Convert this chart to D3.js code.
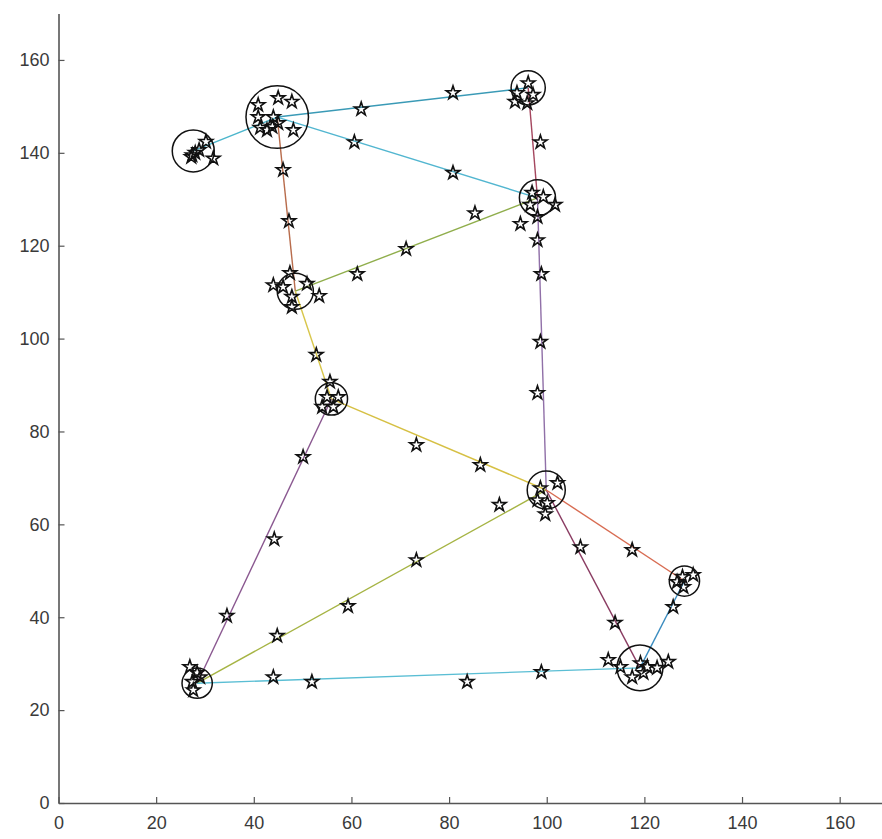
<!DOCTYPE html>
<html>
<head>
<meta charset="utf-8">
<script src="https://cdn.jsdelivr.net/npm/d3@7"></script>
<style>
  html, body { margin: 0; padding: 0; background: #fff; }
  svg { display: block; }
</style>
</head>
<body>
<svg id="chart" width="882" height="839"></svg>
<script>
// ---------- data ----------
const nodeNames = ["A","B","C","D","E","F","G","H","I","J"];
const nodeX = [27.6, 44.8, 96.2, 98.1, 48.5, 55.9, 99.9, 128.2, 119.1, 28.4];
const nodeY = [140.4, 147.7, 154.0, 130.3, 110.2, 87.0, 67.4, 47.8, 29.1, 25.8];
const nodeR = [4.3, 6.4, 3.5, 3.7, 3.7, 3.3, 3.9, 3.1, 4.7, 3.1]; // cluster radius, x-units

const edgeFrom = ["A","B","B","C","B","E","E","F","F","J","J","D","G","G","H"];
const edgeTo   = ["B","C","D","D","E","D","F","G","J","G","I","G","I","H","I"];
const edgeColors = ["#4cb6cc","#3a9ab6","#52b6d0","#a4465e","#b86c4c","#90ae4c","#d8c64a",
                    "#d6c044","#8a5890","#a6b444","#5abed4","#9070a8","#8a3c62","#d86c52","#3a8cc0"];

const starX = [
  27.2, 28.8, 30.2, 31.7, 28.0, 27.4,
  40.9, 45.0, 47.8, 40.9, 44.0, 41.3, 42.7, 45.0, 48.1, 43.8,
  62.0, 80.8,
  96.2, 93.5, 96.0, 97.2, 93.9,
  98.7,
  60.6, 80.8,
  97.0, 99.3, 96.6, 101.7, 98.1, 94.6,
  98.1, 98.9, 98.7, 98.1,
  61.2, 71.2, 85.3,
  46.0, 47.2,
  47.4, 44.0, 46.0, 50.9, 53.4, 47.8, 47.8,
  52.8,
  55.6, 55.0, 56.3, 54.0, 57.3,
  73.3, 86.4,
  90.3, 73.3, 59.3, 44.8,
  50.1, 44.2, 34.5,
  26.9, 28.4, 27.4, 27.6, 29.0,
  44.0, 51.9, 83.7, 98.9,
  98.7, 102.2, 98.1, 100.1, 99.7,
  106.9, 114.0,
  117.5,
  130.0, 127.8, 128.0, 126.7,
  125.9,
  112.6, 115.1, 119.2, 120.6, 122.6, 124.9, 117.5, 119.8
];
const starY = [
  139.1, 140.6, 142.4, 138.8, 140.0, 139.5,
  150.3, 151.8, 151.0, 147.7, 147.7, 145.4, 144.9, 146.4, 144.9, 145.6,
  149.4, 152.9,
  155.0, 151.0, 150.7, 152.5, 152.9,
  142.3,
  142.3, 135.7,
  131.4, 130.5, 128.8, 128.8, 126.2, 124.7,
  121.2, 113.9, 99.3, 88.3,
  113.9, 119.3, 127.0,
  136.3, 125.3,
  114.1, 111.5, 111.1, 111.8, 109.2, 109.0, 106.8,
  96.5,
  90.7, 87.4, 85.3, 85.3, 87.4,
  77.1, 72.8,
  64.2, 52.3, 42.4, 36.0,
  74.5, 56.8, 40.3,
  29.3, 28.0, 26.1, 24.3, 27.1,
  27.1, 26.1, 26.1, 28.2,
  67.8, 68.9, 65.2, 64.6, 62.2,
  55.1, 38.8,
  54.5,
  49.1, 48.7, 46.5, 47.6,
  42.2,
  30.8, 29.3, 30.1, 29.3, 29.1, 30.4, 27.1, 28.0
];

const xTicks = [0, 20, 40, 60, 80, 100, 120, 140, 160];
const yTicks = [0, 20, 40, 60, 80, 100, 120, 140, 160];
const xDomain = [0, 170];
const yDomain = [0, 170];

// ---------- drawing ----------
const svg = d3.select("#chart");
const x = d3.scaleLinear().domain(xDomain).range([58.5, 888.5]);
const y = d3.scaleLinear().domain(yDomain).range([803, 13.5]);

const nodeIndex = {};
nodeNames.forEach((n, i) => nodeIndex[n] = i);

// edges
svg.append("g").selectAll("line")
  .data(edgeFrom.map((f, i) => ({ f: nodeIndex[f], t: nodeIndex[edgeTo[i]], c: edgeColors[i] })))
  .join("line")
  .attr("x1", d => x(nodeX[d.f])).attr("y1", d => y(nodeY[d.f]))
  .attr("x2", d => x(nodeX[d.t])).attr("y2", d => y(nodeY[d.t]))
  .attr("stroke", d => d.c)
  .attr("stroke-width", 1.4);

// stars
const star = d3.symbol().type(d3.symbolStar).size(56);
svg.append("g").selectAll("path")
  .data(starX.map((v, i) => [v, starY[i]]))
  .join("path")
  .attr("d", star)
  .attr("transform", d => `translate(${x(d[0])},${y(d[1])})`)
  .attr("fill", "none")
  .attr("stroke", "#111")
  .attr("stroke-width", 1.6)
  .attr("stroke-linejoin", "miter");

// cluster circles
svg.append("g").selectAll("circle")
  .data(nodeNames.map((n, i) => i))
  .join("circle")
  .attr("cx", i => x(nodeX[i]))
  .attr("cy", i => y(nodeY[i]))
  .attr("r", i => x(nodeR[i]) - x(0))
  .attr("fill", "none")
  .attr("stroke", "#111")
  .attr("stroke-width", 1.5);

// axes
const axisColor = "#555";
const xAxis = svg.append("g")
  .attr("transform", `translate(0,${y(0)})`)
  .call(d3.axisBottom(x).tickValues(xTicks).tickSizeInner(-6).tickSizeOuter(0).tickPadding(13));
const yAxis = svg.append("g")
  .attr("transform", `translate(${x(0)},0)`)
  .call(d3.axisLeft(y).tickValues(yTicks).tickSizeInner(-6).tickSizeOuter(0).tickPadding(9));

[xAxis, yAxis].forEach(g => {
  g.select(".domain").attr("stroke", axisColor).attr("stroke-width", 1.6);
  g.selectAll(".tick line").attr("stroke", axisColor).attr("stroke-width", 1.2);
  g.selectAll(".tick text")
    .attr("fill", "#3a3a3a")
    .style("font-family", "'Liberation Sans', Arial, sans-serif")
    .style("font-size", "18px");
});
</script>
</body>
</html>
